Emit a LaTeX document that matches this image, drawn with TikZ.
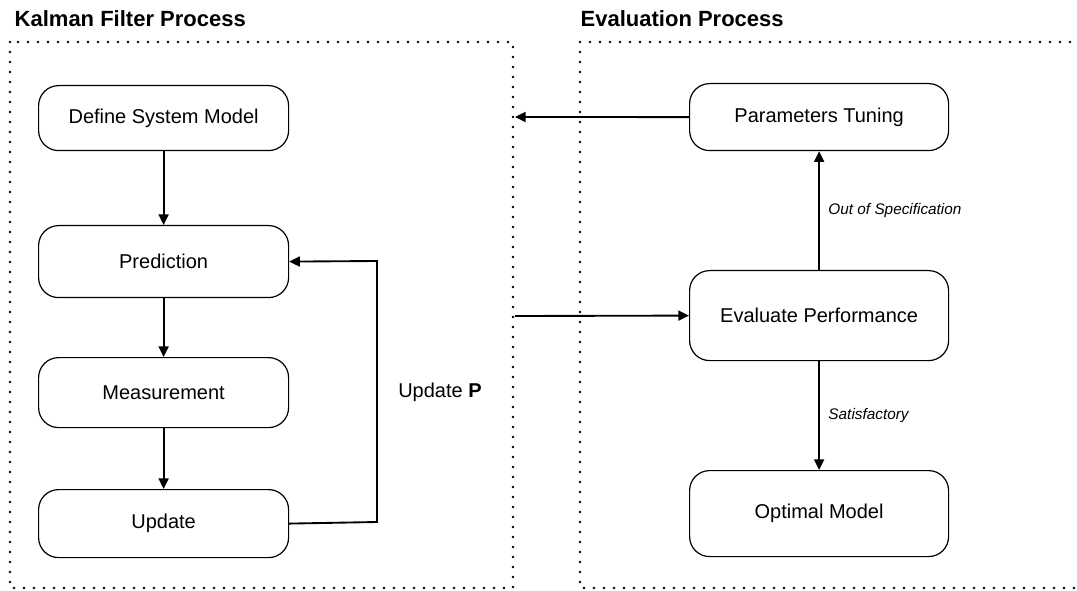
\documentclass[tikz,border=0pt]{standalone}
\usepackage{fontspec}
\setmainfont{Liberation Sans}
\usetikzlibrary{arrows.meta}
\begin{document}
\begin{tikzpicture}[x=0.75pt,y=-0.75pt,
  procbox/.style={draw=black, line width=0.9pt, rounded corners=15pt, minimum width=187.5pt, anchor=north west, font=\fontsize{15}{18}\selectfont, inner sep=0pt},
  grouprect/.style={draw=black, line width=2pt, dash pattern=on 0pt off 7.5pt, line cap=round},
  conn/.style={line width=1.4pt, -{Triangle[length=8pt,width=7.5pt]}},
  lbl/.style={font=\fontsize{11.5}{14}\selectfont\itshape, anchor=west},
  title/.style={font=\fontsize{16.5}{20}\selectfont\bfseries, anchor=west}]
\useasboundingbox (0,0) rectangle (1077,591);
% groups
\draw[grouprect] (10,42) rectangle (513,588);
\draw[grouprect] (1090,42) -- (580,42) -- (580,588) -- (1090,588);
\node[title] (t1) at (10,19) {Kalman Filter Process};
\node[title] (t2) at (576,19) {Evaluation Process};
% left boxes
\node[procbox, minimum height=48.75pt] (def) at (38,85) {Define System Model};
\node[procbox, minimum height=54pt] (pred) at (38,225) {Prediction};
\node[procbox, minimum height=52.5pt] (meas) at (38,357) {Measurement};
\node[procbox, minimum height=51pt] (upd) at (38,489) {Update};
% right boxes
\node[procbox, minimum width=194.25pt, minimum height=50.25pt] (tune) at (689,83) {Parameters Tuning};
\node[procbox, minimum width=194.25pt, minimum height=67.5pt] (eval) at (689,270) {Evaluate Performance};
\node[procbox, minimum width=194.25pt, minimum height=64.5pt] (opt) at (689,470) {Optimal Model};
% coordinates on group edges
\coordinate (lin) at (515,117);
\coordinate (lout) at (515,316);
\coordinate (bend1) at (377,522);
\coordinate (bend2) at (377,261);
% connectors
\draw[conn] (def) -- (pred);
\draw[conn] (pred) -- (meas);
\draw[conn] (meas) -- (upd);
\draw[conn] (upd.east) -- (bend1) -- (bend2) -- (pred.east);
\node[font=\fontsize{15}{18}\selectfont, anchor=west, inner sep=0pt] (up) at (398,392) {Update \textbf{P}};
\draw[conn] (tune.west) -- (lin);
\draw[conn] (lout) -- (eval.west);
\draw[conn] (eval.north) -- node[lbl, xshift=3pt] (oos) {Out of Specification} (tune.south);
\draw[conn] (eval.south) -- node[lbl, xshift=3pt] (sat) {Satisfactory} (opt.north);
\end{tikzpicture}
\end{document}
